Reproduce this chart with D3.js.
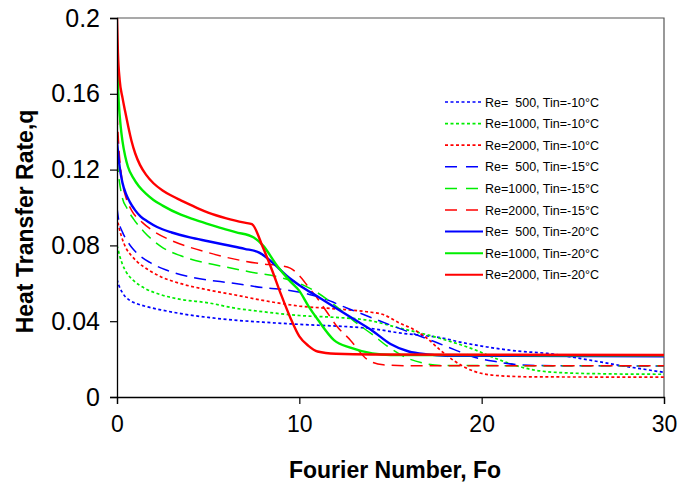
<!DOCTYPE html>
<html>
<head>
<meta charset="utf-8">
<script src="https://cdn.jsdelivr.net/npm/d3@7"></script>
<style>
  body { margin: 0; background: #fff; }
  svg { display: block; font-family: Arial, "Liberation Sans", sans-serif; }
</style>
</head>
<body>
<svg id="chart" width="678" height="492"></svg>
<script>
// tick labels
const xTicks = [0, 10, 20, 30];
const yTicks = [0, 0.04, 0.08, 0.12, 0.16, 0.2];

// curves, [Fo, q]
const re500_tin10 = [[0,0.062],[0.1,0.059],[0.3,0.055],[0.7,0.051],[1.1,0.0492],[1.5,0.048],[2.4,0.046],[3.5,0.044],[5,0.042],[6.4,0.0406],[8,0.0395],[9.7,0.0385],[12.8,0.037],[13.7,0.0364],[15.5,0.0338],[17.9,0.031],[18.8,0.029],[20.3,0.0264],[22,0.0242],[23.6,0.023],[25,0.021],[26.5,0.0185],[28,0.016],[29,0.0145],[30,0.013]];
const re1000_tin10 = [[0,0.08],[0.08,0.077],[0.16,0.074],[0.3,0.07],[0.5,0.066],[0.9,0.0615],[1.5,0.0575],[2.4,0.054],[3.5,0.0515],[5,0.0497],[6.4,0.047],[8,0.045],[10,0.043],[12,0.042],[13.7,0.0406],[15.5,0.0364],[17.7,0.031],[19.6,0.025],[21,0.0195],[22.9,0.0142],[24.7,0.0127],[27,0.0122],[30,0.012]];
const re2000_tin10 = [[0,0.095],[0.1,0.09],[0.27,0.084],[0.5,0.0785],[0.8,0.0745],[1.1,0.0715],[1.7,0.0672],[2.4,0.0635],[3.5,0.0598],[5,0.0565],[6.4,0.054],[8,0.051],[10,0.048],[12,0.0465],[13.7,0.045],[14.6,0.0435],[15.5,0.039],[16.2,0.036],[17,0.031],[17.7,0.025],[18.5,0.019],[19.6,0.0135],[21,0.0112],[23,0.0106],[30,0.0105]];
const re500_tin15 = [[0,0.1],[0.1,0.093],[0.3,0.087],[0.55,0.0825],[0.8,0.079],[1.2,0.075],[1.8,0.071],[2.7,0.067],[4.2,0.063],[6.4,0.06],[8.2,0.0575],[9.3,0.0565],[10.6,0.054],[11,0.053],[12.6,0.047],[14,0.0417],[15.7,0.0354],[17.2,0.03],[18.5,0.025],[19.6,0.021],[20.9,0.0185],[22,0.017],[24,0.0165],[30,0.0164]];
const re1000_tin15 = [[0,0.125],[0.1,0.116],[0.27,0.106],[0.55,0.0995],[0.9,0.094],[1.5,0.087],[2.4,0.0795],[3.5,0.0745],[5,0.0705],[6,0.0685],[7.3,0.066],[9,0.063],[10,0.06],[11,0.055],[12,0.048],[13,0.04],[14,0.033],[14.8,0.027],[15.9,0.0206],[17,0.0175],[18,0.0166],[30,0.0165]];
const re2000_tin15 = [[0,0.15],[0.1,0.132],[0.3,0.113],[0.5,0.105],[0.8,0.0985],[1.4,0.092],[2,0.0875],[3,0.0825],[4,0.079],[5,0.0762],[6,0.0737],[7,0.0717],[8,0.0702],[8.8,0.0695],[9.5,0.068],[10,0.064],[10.5,0.058],[11,0.052],[11.5,0.045],[12,0.038],[12.8,0.03],[13.7,0.02],[14.6,0.017],[16,0.0165],[30,0.0165]];
const re500_tin20 = [[0,0.135],[0.1,0.125],[0.2,0.118],[0.3,0.113],[0.5,0.107],[0.7,0.103],[1,0.0985],[1.3,0.0952],[1.7,0.0925],[2.2,0.0897],[3,0.0868],[4,0.0842],[5,0.0822],[6,0.0802],[7,0.0782],[7.8,0.0762],[8.5,0.0712],[9.3,0.064],[10,0.059],[11,0.053],[12,0.047],[13,0.041],[14,0.035],[15,0.028],[16,0.024],[17,0.0225],[18,0.0218],[30,0.0215]];
const re1000_tin20 = [[0,0.178],[0.1,0.155],[0.2,0.143],[0.3,0.135],[0.45,0.127],[0.6,0.1215],[0.9,0.1155],[1.2,0.1112],[1.6,0.1072],[2,0.104],[2.5,0.101],[3.5,0.0962],[4.5,0.0928],[5.5,0.0898],[6.5,0.087],[7.5,0.0842],[8,0.08],[8.8,0.069],[9.5,0.061],[10,0.056],[10.5,0.048],[11,0.041],[11.9,0.03],[12.8,0.026],[14,0.023],[15,0.0222],[30,0.022]];
const re2000_tin20 = [[0,0.2],[0.05,0.182],[0.15,0.167],[0.3,0.158],[0.44,0.151],[0.6,0.1435],[0.8,0.135],[1,0.1285],[1.26,0.1225],[1.6,0.1172],[2,0.1128],[2.5,0.109],[3,0.1062],[3.5,0.1038],[4,0.1015],[4.5,0.0993],[5,0.0973],[6,0.0943],[7,0.092],[7.4,0.0912],[8,0.079],[8.5,0.067],[9,0.054],[9.5,0.042],[10,0.032],[10.5,0.027],[11,0.024],[12,0.0228],[14,0.0224],[30,0.0222]];

const seriesNames = ["Re=  500, Tin=-10°C","Re=1000, Tin=-10°C","Re=2000, Tin=-10°C",
                     "Re=  500, Tin=-15°C","Re=1000, Tin=-15°C","Re=2000, Tin=-15°C",
                     "Re=  500, Tin=-20°C","Re=1000, Tin=-20°C","Re=2000, Tin=-20°C"];
const seriesData = [re500_tin10, re1000_tin10, re2000_tin10, re500_tin15, re1000_tin15, re2000_tin15, re500_tin20, re1000_tin20, re2000_tin20];

const colors = ["#0000ff", "#00ee00", "#ff0000"];
const styles = [
  { dash: "3,2.5", width: 1.7 }, // -10
  { dash: "12,7", width: 1.5 },  // -15
  { dash: null, width: 2.4 }     // -20
];

const margin = { top: 18, right: 14, bottom: 95, left: 117 };
const width = 678 - margin.left - margin.right;
const height = 492 - margin.top - margin.bottom;

const svg = d3.select("#chart");
const g = svg.append("g").attr("transform", `translate(${margin.left},${margin.top})`);

const x = d3.scaleLinear().domain([0, 30]).range([0, width]);
const y = d3.scaleLinear().domain([0, 0.2]).range([height, 0]);

g.append("clipPath").attr("id", "clip")
  .append("rect").attr("width", width).attr("height", height);

// frame top/right
g.append("path")
  .attr("d", `M0,0H${width}V${height}`)
  .attr("fill", "none").attr("stroke", "#555").attr("stroke-width", 1.2);

const line = d3.line().x(d => x(d[0])).y(d => y(d[1])).curve(d3.curveMonotoneX);

seriesData.forEach((data, i) => {
  const st = styles[Math.floor(i / 3)];
  g.append("path")
    .datum(data)
    .attr("clip-path", "url(#clip)")
    .attr("fill", "none")
    .attr("stroke", colors[i % 3])
    .attr("stroke-width", st.width)
    .attr("stroke-dasharray", st.dash)
    .attr("d", line);
});

// axes
const xAxis = g.append("g").attr("transform", `translate(0,${height})`)
  .call(d3.axisBottom(x).tickValues(xTicks).tickSize(7).tickPadding(12).tickFormat(d3.format("d")));
const yAxis = g.append("g")
  .call(d3.axisLeft(y).tickValues(yTicks).tickSize(7).tickPadding(10).tickFormat(d => d === 0 ? "0" : d3.format(".2~f")(d)));

[xAxis, yAxis].forEach(a => {
  a.select(".domain").attr("stroke", "#000").attr("stroke-width", 1.3);
  a.selectAll(".tick line").attr("stroke", "#000").attr("stroke-width", 1.2);
  a.selectAll(".tick text").attr("fill", "#000").style("font-size", "23px").style("font-family", "Arial, 'Liberation Sans', sans-serif");
});
yAxis.selectAll(".tick text").style("font-size", "25px");

// axis titles
svg.append("text")
  .attr("x", 395).attr("y", 478)
  .attr("text-anchor", "middle")
  .style("font-size", "23px").style("font-weight", "bold")
  .text("Fourier Number, Fo");

svg.append("text")
  .attr("transform", `translate(33,${margin.top + height / 2 + 14}) rotate(-90)`)
  .attr("text-anchor", "middle")
  .style("font-size", "23px").style("font-weight", "bold")
  .text("Heat Transfer Rate,q");

// legend
const legend = svg.append("g").attr("transform", "translate(445,102)");
seriesNames.forEach((name, i) => {
  const st = styles[Math.floor(i / 3)];
  const row = legend.append("g").attr("transform", `translate(0,${i * 21.6})`);
  row.append("line")
    .attr("x1", 0).attr("x2", 38).attr("y1", 0).attr("y2", 0)
    .attr("stroke", colors[i % 3])
    .attr("stroke-width", st.width === 2.4 ? 2 : st.width)
    .attr("stroke-dasharray", st.dash === "12,7" ? "12,9" : st.dash);
  row.append("text")
    .attr("x", 40).attr("y", 4.5)
    .attr("xml:space", "preserve")
    .style("white-space", "pre")
    .style("font-size", "12.5px")
    .text(name);
});
</script>
</body>
</html>
